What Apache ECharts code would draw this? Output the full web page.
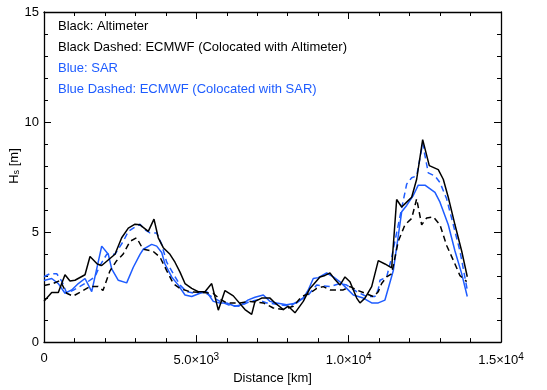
<!DOCTYPE html>
<html>
<head>
<meta charset="utf-8">
<script src="https://cdn.jsdelivr.net/npm/echarts@6/dist/echarts.min.js"></script>
<style>
  html, body { margin: 0; padding: 0; background: #fff; }
  #chart { width: 547px; height: 390px; }
</style>
</head>
<body>
<div id="chart"></div>
<script>
// Significant wave height along the track [m] versus distance [km]

// Altimeter
const altDist = [0, 253, 470, 689, 853, 1017, 1346, 1510, 1749, 1894, 2330, 2550, 2767, 2987, 3151, 3423, 3610, 3751, 3915, 4135, 4299, 4464, 4628, 4848, 5064, 5284, 5504, 5721, 5940, 6213, 6597, 6817, 6925, 7145, 7418, 7582, 7854, 8018, 8238, 8510, 8730, 9058, 9223, 9386, 9550, 9715, 9879, 10043, 10263, 10371, 10535, 10755, 10972, 11191, 11411, 11575, 11740, 11904, 12068, 12232, 12429, 12646, 12941, 13105, 13269, 13489, 13709, 13893];
const altHs = [1.86, 2.25, 2.25, 3.06, 2.78, 2.81, 3.06, 3.89, 3.55, 3.48, 3.99, 4.74, 5.18, 5.36, 5.33, 5.03, 5.59, 4.74, 4.29, 3.99, 3.63, 3.18, 2.66, 2.44, 2.29, 2.29, 2.66, 1.45, 2.34, 2.10, 1.48, 1.26, 1.85, 2.00, 2.00, 1.78, 1.48, 1.63, 1.33, 1.85, 2.44, 2.96, 3.03, 3.14, 2.84, 2.59, 2.96, 2.74, 2.00, 1.78, 2.00, 2.52, 3.70, 3.55, 3.37, 6.48, 6.14, 6.36, 6.58, 7.40, 9.20, 8.02, 7.84, 7.40, 6.58, 5.33, 4.14, 2.97];

// ECMWF colocated with the altimeter
const ecmAltDist = [0, 295, 525, 745, 952, 1182, 1510, 1772, 1936, 2166, 2386, 2593, 2823, 3042, 3249, 3577, 3807, 4027, 4244, 4464, 4792, 5120, 5547, 5776, 5996, 6433, 6761, 7198, 7526, 7854, 8182, 8458, 8730, 8950, 9167, 9387, 9606, 9823, 10043, 10263, 10535, 10808, 10972, 11083, 11247, 11411, 11628, 11847, 12068, 12232, 12396, 12560, 12777, 12997, 13216, 13489, 13653, 13873];
const ecmAltHs = [2.57, 2.66, 2.80, 2.22, 2.09, 2.26, 2.53, 2.53, 2.35, 3.24, 3.70, 3.99, 4.58, 4.74, 4.22, 4.13, 3.86, 3.25, 2.66, 2.44, 2.29, 2.26, 2.22, 1.95, 1.78, 1.78, 1.85, 1.78, 1.55, 1.48, 1.63, 2.07, 2.22, 2.44, 2.52, 2.37, 2.37, 2.37, 2.52, 2.37, 2.22, 2.07, 2.29, 2.66, 2.96, 3.11, 4.58, 5.33, 5.62, 6.51, 5.33, 5.64, 5.69, 5.33, 4.39, 3.55, 3.02, 2.75];

// SAR
const sarDist = [0, 253, 470, 689, 909, 1126, 1346, 1566, 1894, 2110, 2222, 2439, 2714, 2931, 3151, 3259, 3535, 3699, 3863, 3971, 4191, 4408, 4628, 4848, 5120, 5340, 5556, 5776, 5996, 6269, 6489, 6705, 6925, 7198, 7418, 7637, 7966, 8294, 8510, 8674, 8838, 9003, 9278, 9495, 9715, 9935, 10151, 10479, 10755, 10972, 11191, 11464, 11740, 11904, 12120, 12284, 12504, 12833, 12997, 13269, 13489, 13709, 13893];
const sarHs = [2.80, 2.89, 2.66, 2.22, 2.37, 2.66, 2.89, 2.29, 4.36, 3.99, 3.33, 2.81, 2.69, 3.40, 3.99, 4.22, 4.44, 4.36, 4.07, 3.55, 2.96, 2.59, 2.14, 2.07, 2.22, 2.29, 1.85, 1.78, 1.78, 1.63, 1.70, 1.92, 2.04, 2.14, 1.85, 1.78, 1.70, 1.78, 2.00, 2.37, 2.89, 2.93, 3.14, 2.96, 2.74, 2.44, 2.14, 2.00, 1.78, 1.78, 1.91, 3.24, 5.92, 6.21, 6.66, 7.13, 7.13, 6.80, 6.36, 5.33, 4.14, 3.11, 2.07];

// ECMWF colocated with SAR
const ecmSarDist = [0, 197, 417, 591, 745, 952, 1182, 1444, 1674, 1838, 2058, 2330, 2603, 2767, 2931, 3151, 3315, 3479, 3699, 3863, 4027, 4244, 4464, 4683, 4956, 5228, 5504, 5776, 6104, 6433, 6761, 7033, 7309, 7745, 8074, 8402, 8674, 8950, 9387, 9715, 9935, 10263, 10591, 10863, 10972, 11028, 11247, 11411, 11628, 11904, 12068, 12232, 12429, 12613, 12833, 12997, 13216, 13434, 13653, 13893];
const ecmSarHs = [2.97, 3.11, 3.11, 2.75, 2.22, 2.35, 2.53, 2.75, 2.97, 3.48, 3.99, 3.99, 4.58, 5.03, 5.18, 5.36, 5.10, 4.96, 4.96, 4.44, 3.63, 3.11, 2.59, 2.29, 2.22, 2.29, 2.07, 1.85, 1.66, 1.63, 1.85, 1.92, 1.78, 1.70, 1.63, 1.92, 2.14, 2.59, 2.52, 2.66, 2.59, 2.29, 2.07, 2.07, 2.40, 2.81, 2.96, 3.85, 5.33, 7.18, 7.47, 7.55, 9.02, 7.69, 7.55, 7.25, 6.51, 5.33, 4.14, 2.37];

// Axis ticks
const xTicks = [0, 5000, 10000, 15000];
const yTicks = [0, 5, 10, 15];

const legendLines = [
  ['Black: Altimeter', '#000000'],
  ['Black Dashed: ECMWF (Colocated with Altimeter)', '#000000'],
  ['Blue: SAR', '#1e5cff'],
  ['Blue Dashed: ECMWF (Colocated with SAR)', '#1e5cff']
];

const FONT = 'Liberation Sans';
const FS = 13;
const BLUE = '#1e5cff';

const pairs = (xs, ys) => xs.map((x, i) => [x, ys[i]]);

function sciLabel(v) {
  if (v === 0) return '0';
  const e = Math.floor(Math.log10(v) + 1e-9);
  const m = (v / Math.pow(10, e)).toFixed(1);
  return m + '\u00d710{sup|' + e + '}';
}

const axisCommon = {
  type: 'value',
  axisLine: { show: true, onZero: false, lineStyle: { color: '#000', width: 1.3 } },
  axisTick: { show: true, inside: true, length: 7, lineStyle: { color: '#000', width: 1 } },
  minorTick: { show: true, splitNumber: 5, length: 4, lineStyle: { color: '#000', width: 1 } },
  splitLine: { show: false },
  minorSplitLine: { show: false }
};

const xBase = Object.assign({}, axisCommon, {
  min: xTicks[0], max: xTicks[xTicks.length - 1], interval: xTicks[1] - xTicks[0]
});
const yBase = Object.assign({}, axisCommon, {
  min: yTicks[0], max: yTicks[yTicks.length - 1], interval: yTicks[1] - yTicks[0]
});

const chart = echarts.init(document.getElementById('chart'), null, { renderer: 'canvas' });

chart.setOption({
  animation: false,
  backgroundColor: '#fff',
  grid: { left: 44, right: 46, top: 12, bottom: 40, containLabel: false },
  xAxis: [
    Object.assign({}, xBase, {
      position: 'bottom',
      name: 'Distance [km]',
      nameLocation: 'middle',
      nameGap: 27,
      nameTextStyle: { color: '#000', fontFamily: FONT, fontSize: FS },
      axisLabel: {
        color: '#000', fontFamily: FONT, fontSize: FS, margin: 10,
        formatter: sciLabel,
        rich: { sup: { fontSize: 10, fontFamily: FONT, color: '#000', verticalAlign: 'top', padding: [0, 0, 7, 0] } }
      }
    }),
    Object.assign({}, xBase, { position: 'top', axisLabel: { show: false } })
  ],
  yAxis: [
    Object.assign({}, yBase, {
      position: 'left',
      axisLabel: { color: '#000', fontFamily: FONT, fontSize: FS, margin: 5 }
    }),
    Object.assign({}, yBase, { position: 'right', axisLabel: { show: false } })
  ],
  graphic: [
    {
      type: 'text', x: 14, y: 166, rotation: Math.PI / 2,
      style: {
        text: 'H{sub|s} [m]', fill: '#000', font: FS + 'px "' + FONT + '"',
        align: 'center', verticalAlign: 'middle',
        rich: { sub: { fontSize: 9, fontFamily: FONT, fill: '#000', padding: [6, 0, 0, 0] } }
      }
    }
  ].concat(legendLines.map((l, i) => ({
    type: 'text', x: 58, y: 26 + i * 21,
    style: { text: l[0], fill: l[1], font: FS + 'px "' + FONT + '"', verticalAlign: 'middle' }
  }))),
  series: [
    { name: 'Altimeter', type: 'line', data: pairs(altDist, altHs), showSymbol: false,
      lineStyle: { color: '#000', width: 1.5 }, z: 4 },
    { name: 'ECMWF (Altimeter)', type: 'line', data: pairs(ecmAltDist, ecmAltHs), showSymbol: false,
      lineStyle: { color: '#000', width: 1.5, type: [6, 4] }, z: 3 },
    { name: 'SAR', type: 'line', data: pairs(sarDist, sarHs), showSymbol: false,
      lineStyle: { color: BLUE, width: 1.5 }, z: 2 },
    { name: 'ECMWF (SAR)', type: 'line', data: pairs(ecmSarDist, ecmSarHs), showSymbol: false,
      lineStyle: { color: BLUE, width: 1.5, type: [6, 4] }, z: 1 }
  ]
});
</script>
</body>
</html>
